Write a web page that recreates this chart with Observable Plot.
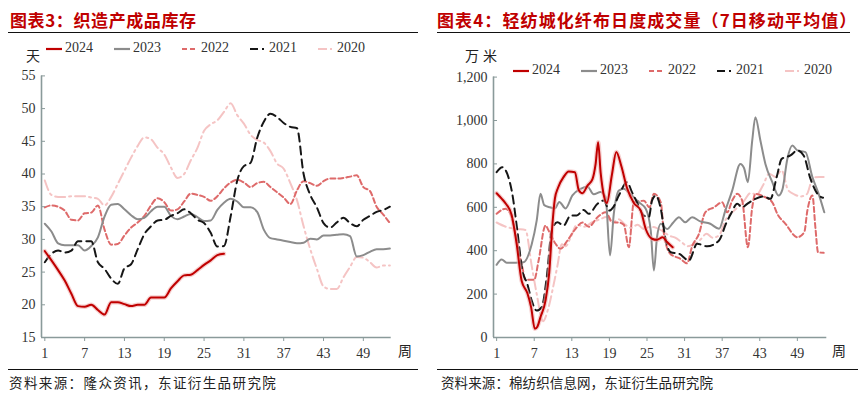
<!DOCTYPE html>
<html><head><meta charset="utf-8">
<script src="https://cdn.jsdelivr.net/npm/d3@7"></script>
<script src="https://cdn.jsdelivr.net/npm/@observablehq/plot@0.6"></script>
<style>
body{margin:0;background:#fff;width:864px;height:399px;position:relative;overflow:hidden;font-family:"Noto Sans CJK SC",sans-serif;}
.panel{position:absolute;top:0;width:432px;height:399px;}
.abs{position:absolute;white-space:nowrap;}
.title{font-weight:700;color:#c00000;font-size:17px;line-height:20px;top:10px;}
.rule{height:0;border-top:1.3px solid #111;}
.foot{font-size:13.5px;color:#222;line-height:18px;top:373px;}
.unit{font-size:14px;color:#222;line-height:16px;}
.leg{font-family:"Liberation Serif",serif;font-size:14px;color:#333;line-height:16px;}
.leg svg{vertical-align:middle;margin-right:3px;}
svg.plot{position:absolute;left:0;top:0;}
</style></head>
<body>
<script>
// ---------- Chart 3: inventory (days), weeks 1..53 ----------
const invWeeks = d3.range(1, 54);
const inv2024 = [28.2,26.8,25.3,23.7,21.7,19.8,19.7,20.0,19.2,18.5,20.4,20.4,20.1,19.8,20.0,20.0,21.1,21.1,21.1,22.5,23.6,24.5,24.6,25.3,26.1,26.8,27.6,27.8];
const inv2023 = [32.4,31.2,29.4,29.1,29.1,29.1,28.3,29.0,30.3,33.5,35.3,35.4,34.6,33.7,33.1,33.3,34.3,35.0,35.0,33.6,33.1,33.5,33.9,33.4,32.8,32.9,34.5,35.6,36.2,35.8,34.9,34.9,34.2,31.5,30.2,30.0,29.8,29.6,29.4,29.5,30.1,30.0,30.6,30.6,30.7,30.8,30.5,27.4,27.6,28.1,28.5,28.5,28.6];
const inv2022 = [34.9,35.2,35.0,34.4,33.0,32.9,34.0,34.1,35.2,31.5,29.2,29.3,30.6,31.8,32.6,33.6,35.2,36.3,35.7,34.4,34.6,35.8,37.0,36.8,36.5,35.9,36.6,37.8,38.7,39.1,38.7,38.0,38.6,38.8,38.0,37.2,36.4,35.4,37.5,38.9,38.6,38.2,38.9,39.3,39.3,39.4,39.6,39.8,38.0,37.4,35.0,33.8,32.5];
const inv2021 = [26.5,27.8,28.3,28.0,28.3,29.7,29.7,29.7,26.5,25.5,24.0,23.2,25.6,26.2,28.5,30.8,32.0,32.9,33.0,33.6,34.0,34.6,34.0,33.0,32.5,31.0,28.9,29.0,33.5,39.0,41.2,41.7,45.5,48.0,49.2,48.7,47.8,47.2,47.0,40.0,36.8,34.9,32.5,31.8,32.6,33.3,32.5,32.0,33.0,33.6,34.2,34.5,35.0];
const inv2020 = [39.0,36.8,36.5,36.5,36.6,36.6,36.6,36.4,36.2,35.2,36.5,38.5,40.5,42.5,44.3,45.6,45.3,44.0,43.0,41.0,39.4,40.0,42.1,44.0,46.6,47.6,48.2,49.5,50.8,49.0,47.7,46.0,45.2,44.8,43.5,41.6,40.8,38.6,36.0,32.0,28.5,25.5,22.8,22.4,22.4,24.2,25.8,27.3,27.2,26.5,25.7,26.0,26.0];
const invYTicks = [15,20,25,30,35,40,45,50,55];
const weekTicks = [1,7,13,19,25,31,37,43,49];

// ---------- Chart 4: daily volume 7d MA (10k metres), x in weeks ----------
const vol2024W = [1,1.8,2.5,3.4,4.2,5,5.9,6.5,7.1,7.5,8,8.8,9.4,9.9,10.3,10.8,11.7,12.5,13.5,14.1,14.7,15.5,16.3,16.8,17.2,17.6,17.9,18.6,19.4,20.1,20.9,21.8,22.9,24,24.8,25.8,26.6,27.5,28.2,29.1];
const vol2024V = [665,640,615,565,430,260,205,140,40,50,94,170,300,520,640,690,740,765,762,680,665,700,730,800,900,760,690,620,750,855,790,690,620,585,500,455,450,462,440,416];
const vol2023W = [1,1.8,2.6,4,5.3,6.6,7.4,8,8.6,9.5,10.3,11,12,13.1,14.4,15.5,16.5,17.6,18.4,19.1,19.7,20.5,21.3,22.3,23.7,24.8,25.6,26.1,26.6,27.2,28.2,29.2,30.1,31.1,32.2,33.5,35.1,36.5,37.5,38.6,39.9,40.5,41.1,41.8,42.3,43.1,43.9,45,46,46.6,47.4,48.2,49,50.3,51.4,52.4,53.3];
const vol2023V = [335,360,345,345,347,430,540,662,610,600,595,625,595,655,685,695,660,670,645,378,570,677,685,662,623,593,493,309,462,524,500,530,554,531,554,535,524,501,585,677,800,780,716,908,1015,908,800,716,654,680,823,885,862,854,739,662,577];
const vol2022W = [1,2.4,3.2,4,5.1,5.6,7,7.7,8.8,9.3,10.4,11.2,12.3,13.6,14.7,15.7,17.1,18.4,19.5,20.5,21.3,22.1,22.9,24.5,25.4,26.1,27.2,27.7,28.7,30.3,31.4,32.2,33.3,34.3,35.7,37,37.8,38.6,39.4,40.2,41.1,41.8,42.3,43.6,45,45.8,47.1,49,50.1,50.6,51.4,51.9,52.3,53.2];
const vol2022V = [570,593,570,478,324,266,266,355,516,493,432,409,447,501,530,510,554,577,531,530,520,416,623,630,600,662,623,478,386,363,342,420,478,577,600,623,577,631,662,630,416,600,662,650,623,570,524,462,485,585,654,500,393,390];
const vol2021W = [1,1.9,2.7,3.5,4.3,5.1,5.9,6.6,7.4,8.2,9,9.8,10.7,11.7,12.8,13.8,14.9,15.7,17.1,18.1,19,19.6,20.5,21.8,22.6,23.4,24.5,25.3,25.8,26.4,27.2,28,28.8,30.1,31.7,33,34.6,36.5,37.6,38.4,39.4,40.2,41,42.3,43.6,44.7,45.7,46.5,47.9,49,50,51.1,52.2,53.1];
const vol2021V = [762,785,754,662,493,309,247,170,124,140,278,493,531,516,562,562,588,570,616,631,585,600,654,716,670,623,562,555,631,654,593,447,393,386,355,432,420,447,524,570,616,600,616,639,650,639,739,823,839,862,839,731,662,644];
const vol2020W = [1,2.7,4.3,5.6,6.6,7.4,8.4,9.2,10,10.7,11.4,12,12.8,13.8,15,16.2,17.5,18.5,19.5,20.5,21.5,22.5,23.5,24.5,25.5,26.5,27.5,28.5,29.5,30.5,31.5,32.5,33.5,34.5,35.5,36.5,37.5,38.5,39.5,40.5,41.5,42.5,43.5,44.5,45.5,46.5,47.5,48.5,49.5,50.5,51.5,52.5,53.2];
const vol2020V = [530,508,500,495,330,200,75,130,230,330,430,420,460,520,510,530,545,555,530,545,520,505,520,500,510,505,490,470,460,440,420,430,450,478,460,470,540,575,600,630,665,660,700,755,740,770,680,660,650,660,735,740,740];
const volYTicks = [0,200,400,600,800,1000,1200];

const years = ["2024","2023","2022","2021","2020"];
const styles = {
  "2024": {stroke:"#c00000", w:2, dash:null},
  "2023": {stroke:"#8c8c8c", w:2, dash:null},
  "2022": {stroke:"#de6a6a", w:2, dash:"5,3"},
  "2021": {stroke:"#161616", w:2, dash:"8,5"},
  "2020": {stroke:"#f5c4c4", w:2, dash:"10,4,2,4"}
};
const axisColor = "#8a9a9a";

function rows(xs, ys, year){ return ys.map((v,i)=>({x:xs[i], y:v, year})); }

const invData = {
  "2024": rows(invWeeks, inv2024, "2024"),
  "2023": rows(invWeeks, inv2023, "2023"),
  "2022": rows(invWeeks, inv2022, "2022"),
  "2021": rows(invWeeks, inv2021, "2021"),
  "2020": rows(invWeeks, inv2020, "2020")
};
const volData = {
  "2024": rows(vol2024W, vol2024V, "2024"),
  "2023": rows(vol2023W, vol2023V, "2023"),
  "2022": rows(vol2022W, vol2022V, "2022"),
  "2021": rows(vol2021W, vol2021V, "2021"),
  "2020": rows(vol2020W, vol2020V, "2020")
};

function lineMarks(data, curve){
  const order = ["2020","2022","2023","2021","2024"];
  const marks = [];
  for (const yr of order){
    const s = styles[yr];
    if (yr === "2024") marks.push(Plot.line(data[yr], {x:"x", y:"y", stroke:"#eeaaaa", strokeWidth:4.5, strokeOpacity:0.55, curve}));
    marks.push(Plot.line(data[yr], {x:"x", y:"y", stroke:s.stroke, strokeWidth:s.w, strokeDasharray:s.dash, curve}));
  }
  return marks;
}

function makeChart(cfg){
  return Plot.plot({
    width: 432, height: 370,
    marginTop: cfg.mt, marginBottom: 33, marginLeft: cfg.ml, marginRight: cfg.mr,
    style: {fontFamily: "'Liberation Serif', serif", fontSize: "14px", color: "#333", background: "transparent"},
    x: {domain: cfg.xd, ticks: weekTicks, label: null},
    y: {domain: cfg.yd, ticks: cfg.yt, label: null},
    marks: [
      ...lineMarks(cfg.data, cfg.curve),
      Plot.ruleY([cfg.yd[0]], {stroke: axisColor, strokeWidth: 1.6}),
      Plot.ruleX([cfg.xd[0]], {stroke: axisColor, strokeWidth: 1.6}),
      Plot.axisY({ticks: cfg.yt, tickSize: -4, tickFormat: () => "", stroke: axisColor, label: null}),
      Plot.axisY({ticks: cfg.yt, tickSize: 0, tickPadding: 6, tickFormat: cfg.fmt, label: null, fill: "#333"}),
      Plot.axisX({ticks: weekTicks, tickSize: 4, tickPadding: 7, stroke: axisColor, label: null, fill: "#333"})
    ]
  });
}

function panel(left, cfg){
  const p = document.createElement("div");
  p.className = "panel"; p.style.left = left + "px";
  document.body.appendChild(p);
  const svg = makeChart(cfg);
  svg.classList.add("plot");
  p.appendChild(svg);
  const add = (cls, css, html) => { const d = document.createElement("div"); d.className = "abs " + cls; Object.assign(d.style, css); d.innerHTML = html; p.appendChild(d); return d; };
  add("title", {left: cfg.titleX + "px", letterSpacing: cfg.titleLS}, cfg.title);
  add("rule", {left: cfg.ruleTop[0] + "px", width: cfg.ruleTop[1] + "px", top: "32px"}, "");
  add("rule", {left: cfg.ruleBot[0] + "px", width: cfg.ruleBot[1] + "px", top: "369px"}, "");
  add("foot", {left: cfg.footX + "px", letterSpacing: cfg.footLS}, cfg.foot);
  add("unit", {left: cfg.unitX + "px", top: "47px", letterSpacing: cfg.unitLS}, cfg.unit);
  add("unit", {left: cfg.zhouX + "px", top: "342px"}, "周");
  years.forEach((yr, i) => {
    const s = styles[yr];
    const dash = s.dash === "10,4,2,4" ? "9,3,2,3" : (s.dash === "8,5" ? "8,4,2,4" : (s.dash === "5,3" ? "5,3" : null));
    const sw = `<svg width="16" height="6"><line x1="0" y1="3" x2="16" y2="3" stroke="${s.stroke}" stroke-width="2.2" ${dash ? `stroke-dasharray="${dash}"` : ""}/></svg>`;
    add("leg", {left: (cfg.legX + i * 68) + "px", top: (cfg.legY - 8) + "px"}, sw + yr);
  });
}

panel(0, {
  data: invData, curve: "monotone-x",
  xd: [0.5, 53.2], yd: [15, 55], yt: invYTicks, fmt: d => String(d),
  mt: 75.4, ml: 41, mr: 41.3,
  title: "图表3：织造产成品库存", titleX: 10, titleLS: "0.6px",
  ruleTop: [8, 410], ruleBot: [8, 410],
  foot: "资料来源：隆众资讯，东证衍生品研究院", footX: 9, footLS: "1.4px",
  unit: "天", unitX: 26, unitLS: "0px", zhouX: 398,
  legX: 46, legY: 48
});
panel(432, {
  data: volData, curve: "monotone-x",
  xd: [0.5, 53.7], yd: [0, 1200], yt: volYTicks, fmt: d3.format(","),
  mt: 76.6, ml: 61, mr: 37.7,
  title: "图表4：轻纺城化纤布日度成交量（7日移动平均值）", titleX: 5, titleLS: "1.1px",
  ruleTop: [5, 413], ruleBot: [5, 421],
  foot: "资料来源：棉纺织信息网，东证衍生品研究院", footX: 9, footLS: "0.1px",
  unit: "万米", unitX: 33, unitLS: "4px", zhouX: 400,
  legX: 81, legY: 70
});
</script>
</body></html>
